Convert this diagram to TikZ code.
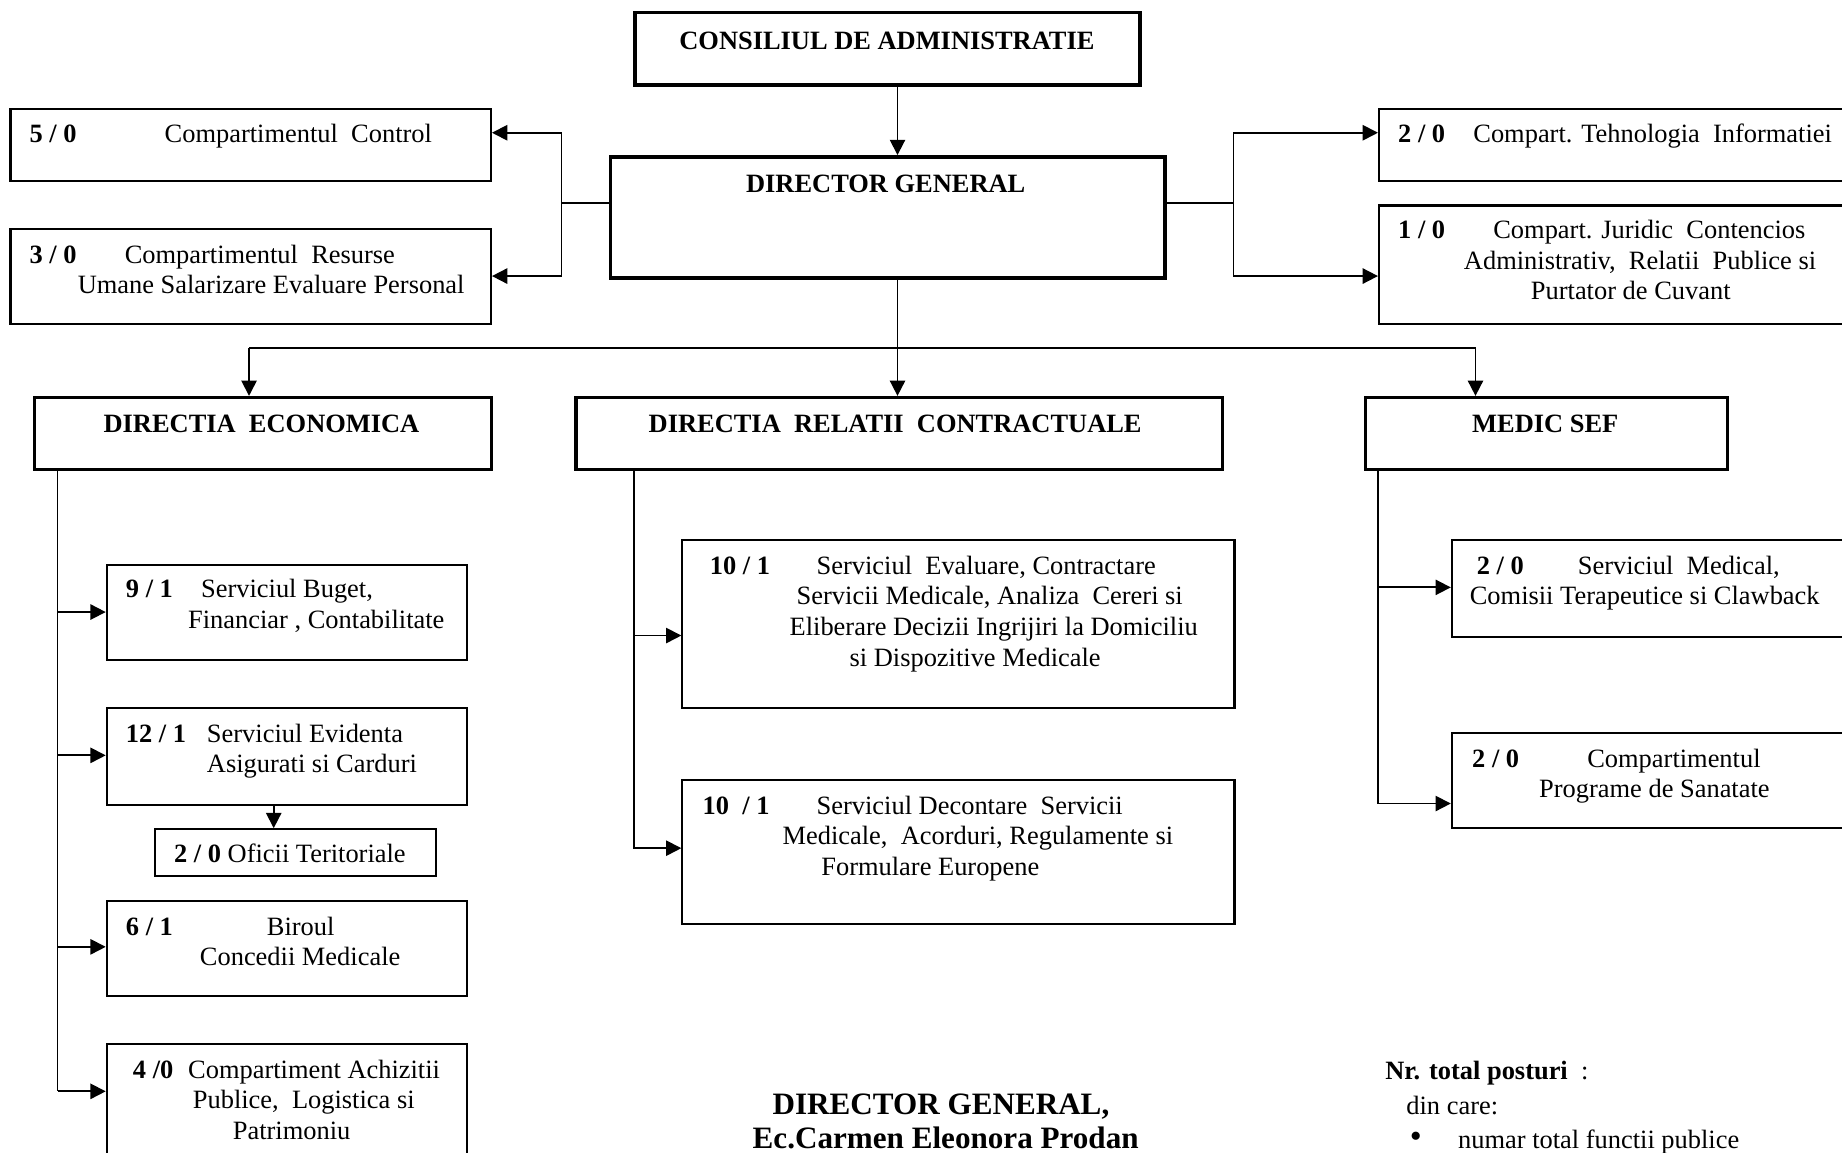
\documentclass[tikz,border=0pt]{standalone}
\usepackage{fontspec}
\setmainfont{Liberation Serif}
\usetikzlibrary{arrows.meta}
\newcommand\mybox[6]{\node[#1, minimum width={(#5-#3)*1pt}, minimum height={(#6-#4)*1pt}] (#2) at (#3,#4) {};}
\begin{document}
\begin{tikzpicture}[x=1pt,y=-1pt,
  thinbox/.style={draw, line width=1.8pt, inner sep=0pt, anchor=north west},
  thickbox/.style={draw, line width=3pt, inner sep=0pt, anchor=north west},
  txt/.style={anchor=base west, inner sep=0pt, font=\fontsize{22.5pt}{26pt}\selectfont},
  ctxt/.style={anchor=base, inner sep=0pt, font=\fontsize{22.5pt}{26pt}\selectfont\bfseries},
  big/.style={anchor=base, inner sep=0pt, font=\fontsize{26.5pt}{30pt}\selectfont\bfseries},
  conn/.style={line width=1.5pt},
  arr/.style={conn, -{Triangle[length=13pt,width=13pt]}}
]
\useasboundingbox (0,0) rectangle (1568,981);
\clip (0,0) rectangle (1568,981);

% boxes
\mybox{thickbox}{cons}{539}{9}{969}{71}
\mybox{thickbox}{dg}{518}{132}{990}{235}
\mybox{thinbox}{ctrl}{8}{92}{417}{153}
\mybox{thinbox}{res}{8}{194}{417}{275}
\mybox{thinbox}{ti}{1173}{92}{1600}{153}
\mybox{thinbox}{jur}{1173}{174}{1600}{275}
\mybox{thickbox}{de}{28}{337}{417}{398}
\mybox{thickbox}{drc}{489}{337}{1039}{398}
\mybox{thickbox}{ms}{1161}{337}{1469}{398}
\mybox{thinbox}{buget}{90}{480}{397}{561}
\mybox{thinbox}{evid}{90}{602}{397}{684}
\mybox{thinbox}{ofic}{131}{705}{370}{745}
\mybox{thinbox}{birou}{90}{766}{397}{847}
\mybox{thinbox}{achiz}{90}{888}{397}{1000}
\mybox{thinbox}{eval}{580}{459}{1050}{602}
\mybox{thinbox}{decont}{580}{663}{1050}{786}
\mybox{thinbox}{medical}{1235}{459}{1600}{541}
\mybox{thinbox}{progr}{1235}{623}{1600}{704}

% junction coordinates
\coordinate (spine) at (764,296);
\coordinate (hL) at (212,296);
\coordinate (hR) at (1256,296);
\coordinate (lj) at (478,173);
\coordinate (lT) at (478,113);
\coordinate (lB) at (478,235);
\coordinate (rj) at (1050,173);
\coordinate (rT) at (1050,113);
\coordinate (rB) at (1050,235);
\coordinate (de1) at (49,521);
\coordinate (de2) at (49,643);
\coordinate (de3) at (49,806);
\coordinate (de4) at (49,929);
\coordinate (dr1) at (540,541);
\coordinate (dr2) at (540,722);
\coordinate (ms1) at (1173,500);
\coordinate (ms2) at (1173,684);
\coordinate (ofx) at (233,700);

% connectors
\draw[arr] (cons.south -| spine) -- (dg.north -| spine);
\draw[conn] (dg.west |- lj) -- (lj);
\draw[arr] (lj) -- (lT) -- (lT -| ctrl.east);
\draw[arr] (lj) -- (lB) -- (lB -| res.east);
\draw[conn] (dg.east |- rj) -- (rj);
\draw[arr] (rj) -- (rT) -- (rT -| ti.west);
\draw[arr] (rj) -- (rB) -- (rB -| jur.west);
\draw[conn] (dg.south -| spine) -- (spine);
\draw[conn] (hL) -- (hR);
\draw[arr] (hL) -- (hL |- de.north);
\draw[arr] (spine) -- (spine |- drc.north);
\draw[arr] (hR) -- (hR |- ms.north);
\draw[conn] (de.south -| de1) -- (de4);
\draw[arr] (de1) -- (de1 -| buget.west);
\draw[arr] (de2) -- (de2 -| evid.west);
\draw[arr] (de3) -- (de3 -| birou.west);
\draw[arr] (de4) -- (de4 -| achiz.west);
\draw[arr] (evid.south -| ofx) -- (ofic.north -| ofx);
\draw[conn] (drc.south -| dr1) -- (dr1);
\draw[arr] (dr1) -- (dr1 -| eval.west);
\draw[arr] (dr1) -- (dr2) -- (dr2 -| decont.west);
\draw[conn] (ms.south -| ms1) -- (ms1);
\draw[arr] (ms1) -- (ms1 -| medical.west);
\draw[arr] (ms1) -- (ms2) -- (ms2 -| progr.west);

% texts
\node[ctxt] (tcons) at (755,42) {CONSILIUL DE ADMINISTRATIE};
\node[ctxt] (tdg) at (754,164) {DIRECTOR GENERAL};
\node[txt] (tc1) at (25,121) {\textbf{5 / 0}};
\node[txt] (tc2) at (140,121) {Compartimentul~~Control};
\node[txt] (tr1) at (25,224) {\textbf{3 / 0}};
\node[txt] (tr2) at (106,224) {Compartimentul~~Resurse};
\node[txt] (tr3) at (66,250) {Umane Salarizare Evaluare Personal};
\node[txt] (tt1) at (1190,121) {\textbf{2 / 0}};
\node[txt] (tt2) at (1254,121) {Compart. Tehnologia~~Informatiei};
\node[txt] (tj1) at (1190,203) {\textbf{1 / 0}};
\node[txt] (tj2) at (1271,203) {Compart. Juridic~~Contencios};
\node[txt] (tj3) at (1246,229) {Administrativ,~~Relatii~~Publice si};
\node[txt] (tj4) at (1303,255) {Purtator de Cuvant};
\node[txt] (tde) at (88,368) {\textbf{DIRECTIA~~ECONOMICA}};
\node[txt] (tdrc) at (552,368) {\textbf{DIRECTIA~~RELATII~~CONTRACTUALE}};
\node[txt] (tms) at (1253,368) {\textbf{MEDIC SEF}};
\node[txt] (tb1) at (107,509) {\textbf{9 / 1}};
\node[txt] (tb2) at (171,509) {Serviciul Buget,};
\node[txt] (tb3) at (160,535) {Financiar , Contabilitate};
\node[txt] (te1) at (107,632) {\textbf{12 / 1}};
\node[txt] (te2) at (176,632) {Serviciul Evidenta};
\node[txt] (te3) at (176,658) {Asigurati si Carduri};
\node[txt] (to1) at (148,734) {\textbf{2 / 0} Oficii Teritoriale};
\node[txt] (tbi1) at (107,796) {\textbf{6 / 1}};
\node[txt] (tbi2) at (227,796) {Biroul};
\node[txt] (tbi3) at (170,822) {Concedii Medicale};
\node[txt] (ta1) at (113,918) {\textbf{4 /0}};
\node[txt] (ta2) at (160,918) {Compartiment Achizitii};
\node[txt] (ta3) at (164,944) {Publice,~~Logistica si};
\node[txt] (ta4) at (198,970) {Patrimoniu};
\node[txt] (tv1) at (604,489) {\textbf{10 / 1}};
\node[txt] (tv2) at (695,489) {Serviciul~~Evaluare, Contractare};
\node[txt] (tv3) at (678,515) {Servicii Medicale, Analiza~~Cereri si};
\node[txt] (tv4) at (672,541) {Eliberare Decizii Ingrijiri la Domiciliu};
\node[txt] (tv5) at (723,567) {si Dispozitive Medicale};
\node[txt] (td1) at (598,693) {\textbf{10~~/ 1}};
\node[txt] (td2) at (695,693) {Serviciul Decontare~~Servicii};
\node[txt] (td3) at (666,719) {Medicale,~~Acorduri, Regulamente si};
\node[txt] (td4) at (699,745) {Formulare Europene};
\node[txt] (tm1) at (1257,489) {\textbf{2 / 0}};
\node[txt] (tm2) at (1343,489) {Serviciul~~Medical,};
\node[txt] (tm3) at (1251,515) {Comisii Terapeutice si Clawback};
\node[txt] (tp1) at (1253,653) {\textbf{2 / 0}};
\node[txt] (tp2) at (1351,653) {Compartimentul};
\node[txt] (tp3) at (1310,679) {Programe de Sanatate};
\node[big] (tf1) at (801,949) {DIRECTOR GENERAL,};
\node[big] (tf2) at (805,978) {Ec.Carmen Eleonora Prodan};
\node[txt] (tn1) at (1179,919) {\textbf{Nr. total posturi}~~:};
\node[txt] (tn2) at (1197,949) {din care:};
\node[txt, font=\fontsize{29pt}{29pt}\selectfont] (tn3) at (1200,977) {•};
\node[txt] (tn4) at (1241,978) {numar total functii publice};
\end{tikzpicture}
\end{document}
